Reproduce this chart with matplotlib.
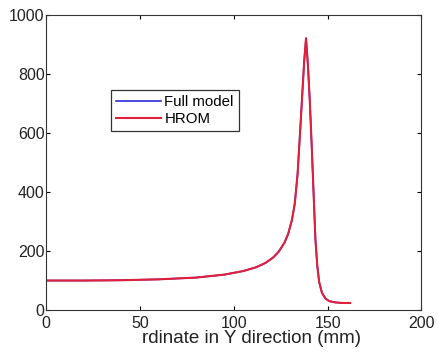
import matplotlib
matplotlib.use("Agg")
import matplotlib.pyplot as plt

plt.rcParams['font.family'] = ['Liberation Sans', 'DejaVu Sans']

# values
y_coord = [0, 20, 40, 60, 80, 95, 105, 112, 117, 121, 124, 127, 129, 131, 132.5, 134,
           135.5, 136.5, 137.5, 138.5, 139.5, 140.5, 141.5, 142.5, 143.5, 144.5, 145.5,
           147, 149, 151, 154, 158, 162]
full_model = [100, 100, 101, 104, 110, 120, 132, 145, 160, 178, 198, 228, 258, 305, 360,
              460, 620, 730, 840, 920, 830, 710, 560, 400, 240, 150, 95,
              58, 38, 30, 26, 24, 24]
hrom = list(full_model)

fig = plt.figure(figsize=(4.39, 3.56), dpi=100)
ax = fig.add_axes([0.105, 0.129, 0.855, 0.83])

ax.plot(y_coord, full_model, color='#2b2bd6', lw=1.2, label='Full model')
ax.plot(y_coord, hrom, color='#e0203a', lw=1.5, label='HROM')

ax.set_xlim(0, 200)
ax.set_ylim(0, 1000)
ax.set_xticks([0, 50, 100, 150, 200])
ax.set_yticks([0, 200, 400, 600, 800, 1000])
ax.tick_params(direction='in', top=True, right=True, labelsize=11.5, length=3, pad=1,
               labelcolor='#222222')
ax.tick_params(axis='x', pad=4)
for s in ax.spines.values():
    s.set_color('#333333')
ax.set_xlabel('rdinate in Y direction (mm)', fontsize=13.5, labelpad=0, color='#222222')
ax.xaxis.set_label_coords(0.548, -0.068)

leg = ax.legend(loc='upper left', bbox_to_anchor=(0.173, 0.745), fontsize=10.8,
                frameon=True, fancybox=False, edgecolor='black', handlelength=3.0,
                handletextpad=0.2, borderpad=0.35, labelspacing=0.2, borderaxespad=0)
leg.get_frame().set_linewidth(0.9)

fig.savefig('out.png', dpi=100)
